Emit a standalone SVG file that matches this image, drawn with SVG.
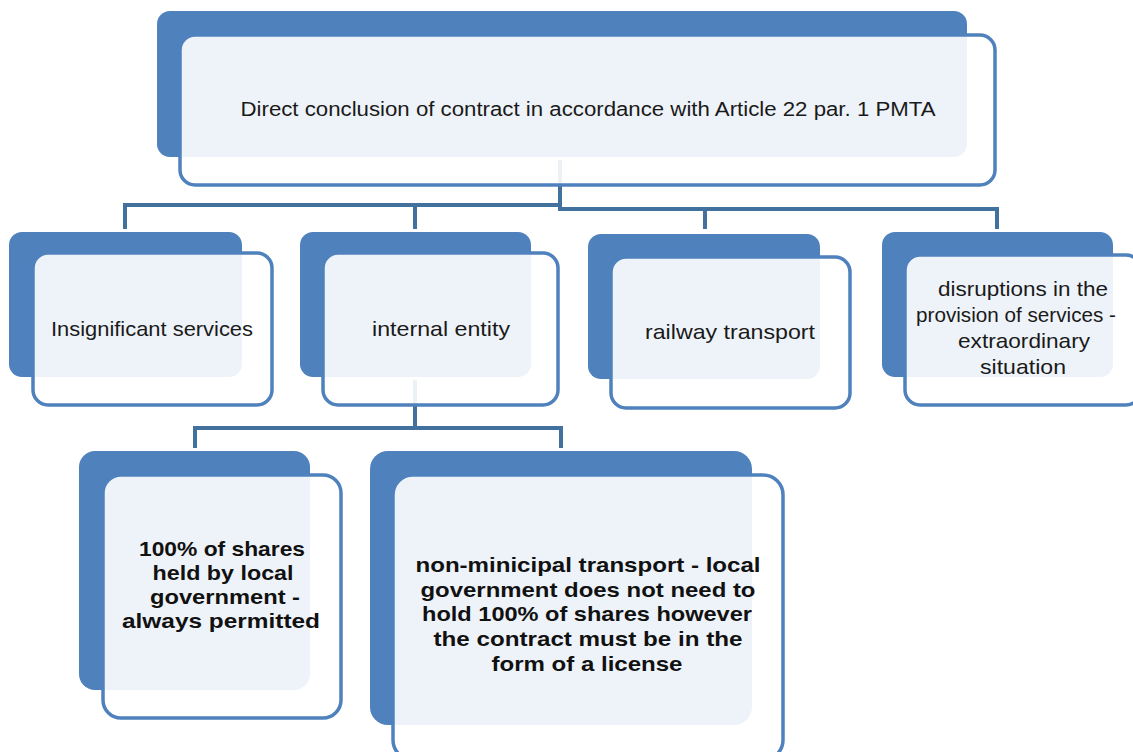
<svg xmlns="http://www.w3.org/2000/svg" width="1133" height="752" viewBox="0 0 1133 752">
  <style>
    .back { fill: #4F81BD; }
    .front { fill: #ffffff; fill-opacity: 0.9; stroke: #4F81BD; stroke-width: 3.5; }
    .link { fill: none; stroke: #41719C; stroke-width: 4; }
    .lbl { font-family: "Liberation Sans", Arial, sans-serif; font-size: 21px; fill: #1a1a1a; text-anchor: middle; }
    .bold { font-family: "Liberation Sans", Arial, sans-serif; font-size: 21px; font-weight: bold; fill: #111; text-anchor: middle; }
  </style>
  <rect width="1133" height="752" fill="#ffffff"/>

  <!-- connectors (drawn underneath the translucent node faces) -->
  <g id="connectors">
    <path class="link" d="M560,160 V205 H125 V229"/>
    <path class="link" d="M415,205 V229"/>
    <path class="link" d="M560,205 V209 H997 V229"/>
    <path class="link" d="M705,209 V229"/>
    <path class="link" d="M415,380 V428 H195 V448"/>
    <path class="link" d="M415,428 H561 V448"/>
  </g>

  <g id="root">
    <rect class="back" x="157" y="11" width="810" height="146" rx="13"/>
    <rect class="front" x="180" y="35" width="815" height="150" rx="15"/>
    <text class="lbl" x="588" y="116" style="font-size:20px" textLength="695" lengthAdjust="spacingAndGlyphs">Direct conclusion of contract in accordance with Article 22 par. 1 PMTA</text>
  </g>

  <g id="insignificant">
    <rect class="back" x="9" y="232" width="233" height="145" rx="13"/>
    <rect class="front" x="33" y="253" width="239" height="152" rx="15"/>
    <text class="lbl" x="152" y="336" textLength="202" lengthAdjust="spacingAndGlyphs">Insignificant services</text>
  </g>

  <g id="internal">
    <rect class="back" x="300" y="232" width="231" height="145" rx="13"/>
    <rect class="front" x="323" y="253" width="235" height="152" rx="15"/>
    <text class="lbl" x="441" y="336" textLength="138" lengthAdjust="spacingAndGlyphs">internal entity</text>
  </g>

  <g id="railway">
    <rect class="back" x="588" y="234" width="232" height="145" rx="13"/>
    <rect class="front" x="611" y="257" width="239" height="151" rx="15"/>
    <text class="lbl" x="730" y="339" textLength="170" lengthAdjust="spacingAndGlyphs">railway transport</text>
  </g>

  <g id="disruptions">
    <rect class="back" x="882" y="232" width="231" height="145" rx="13"/>
    <rect class="front" x="905" y="255" width="236" height="150" rx="15"/>
    <text class="lbl" x="1023" y="296" textLength="170" lengthAdjust="spacingAndGlyphs">disruptions in the</text>
    <text class="lbl" x="1016" y="322" textLength="200" lengthAdjust="spacingAndGlyphs">provision of services -</text>
    <text class="lbl" x="1024" y="348" textLength="132" lengthAdjust="spacingAndGlyphs">extraordinary</text>
    <text class="lbl" x="1023" y="374" textLength="86" lengthAdjust="spacingAndGlyphs">situation</text>
  </g>

  <g id="shares">
    <rect class="back" x="79" y="451" width="231" height="239" rx="16"/>
    <rect class="front" x="103" y="475" width="238" height="243" rx="18"/>
    <text class="bold" x="222" y="556" textLength="166" lengthAdjust="spacingAndGlyphs">100% of shares</text>
    <text class="bold" x="223" y="580" textLength="141" lengthAdjust="spacingAndGlyphs">held by local</text>
    <text class="bold" x="225" y="604" textLength="150" lengthAdjust="spacingAndGlyphs">government -</text>
    <text class="bold" x="221" y="628" textLength="198" lengthAdjust="spacingAndGlyphs">always permitted</text>
  </g>

  <g id="nonmunicipal">
    <rect class="back" x="370" y="451" width="382" height="274" rx="18"/>
    <rect class="front" x="393" y="475" width="390" height="285" rx="20"/>
    <text class="bold" x="588" y="572" textLength="345" lengthAdjust="spacingAndGlyphs">non-minicipal transport - local</text>
    <text class="bold" x="588" y="597" textLength="335" lengthAdjust="spacingAndGlyphs">government does not need to</text>
    <text class="bold" x="587" y="621" textLength="330" lengthAdjust="spacingAndGlyphs">hold 100% of shares however</text>
    <text class="bold" x="588" y="646" textLength="309" lengthAdjust="spacingAndGlyphs">the contract must be in the</text>
    <text class="bold" x="587" y="671" textLength="191" lengthAdjust="spacingAndGlyphs">form of a license</text>
  </g>
</svg>
